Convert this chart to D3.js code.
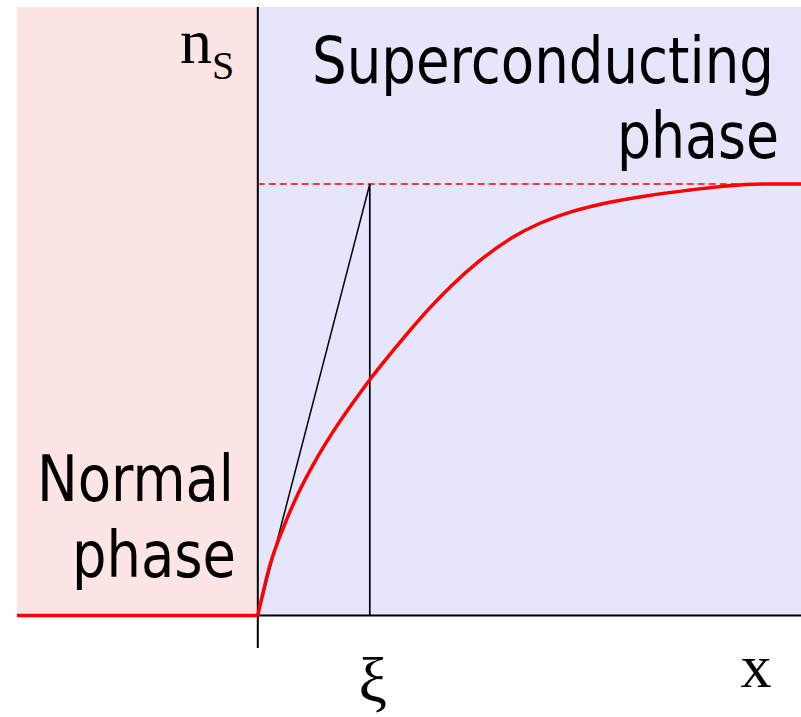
<!DOCTYPE html>
<html><head><meta charset="utf-8">
<script src="https://cdn.jsdelivr.net/npm/d3@7"></script>
<style>html,body{margin:0;padding:0;background:#fff;}svg{display:block;}</style>
</head><body>
<svg id="c" width="801" height="717"></svg>
<script>
// Data (x in units of coherence length ξ, y in units of bulk n_s)
const normalX = [-2.15, 0];
const normalY = [0, 0];
const curveX = [0, 0.11, 0.23, 0.38, 0.53, 0.67, 0.83, 0.99, 1.12, 1.34, 1.54, 1.72, 1.99, 2.28, 2.52, 2.79, 3.09, 3.48, 3.86, 4.16, 4.51, 4.85];
const curveY = [0, 0.118, 0.205, 0.293, 0.366, 0.425, 0.486, 0.543, 0.586, 0.655, 0.714, 0.762, 0.824, 0.877, 0.909, 0.935, 0.955, 0.973, 0.986, 0.995, 1.0, 1.0];
const xi = 1;
const bulk = 1;
const xDomain = [-2.15, 4.85];
const yDomain = [0, 1];

const svg = d3.select("#c");
const x = d3.scaleLinear().domain(xDomain).range([17, 801]);
const y = d3.scaleLinear().domain(yDomain).range([615.5, 184]);
const topEdge = 7;

// regions
svg.append("rect").attr("x", x(xDomain[0])).attr("y", topEdge)
  .attr("width", x(0) - x(xDomain[0])).attr("height", y(0) - topEdge).attr("fill", "#fde5e5");
svg.append("rect").attr("x", x(0)).attr("y", topEdge)
  .attr("width", x(xDomain[1]) - x(0)).attr("height", y(0) - topEdge).attr("fill", "#e5e5fb");

// axes
svg.append("line").attr("x1", x(xDomain[0])).attr("x2", x(xDomain[1]))
  .attr("y1", y(0)).attr("y2", y(0)).attr("stroke", "#000").attr("stroke-width", 2);
svg.append("line").attr("x1", x(0)).attr("x2", x(0))
  .attr("y1", topEdge).attr("y2", 648).attr("stroke", "#000").attr("stroke-width", 2);

// dashed bulk level
svg.append("line").attr("x1", x(0)).attr("x2", x(xDomain[1]))
  .attr("y1", y(bulk)).attr("y2", y(bulk)).attr("stroke", "#ff0000")
  .attr("stroke-width", 1.4).attr("stroke-dasharray", "7,4");

// tangent and xi marker
svg.append("line").attr("x1", x(0)).attr("y1", y(0)).attr("x2", x(xi)).attr("y2", y(bulk))
  .attr("stroke", "#000").attr("stroke-width", 1.5);
svg.append("line").attr("x1", x(xi)).attr("y1", y(bulk)).attr("x2", x(xi)).attr("y2", y(0))
  .attr("stroke", "#000").attr("stroke-width", 1.7);

// curves
const line = d3.line().x(d => x(d[0])).y(d => y(d[1]));
svg.append("path").datum(normalX.map((v, i) => [v, normalY[i]]))
  .attr("d", line).attr("fill", "none").attr("stroke", "#ff0000").attr("stroke-width", 3.5);
svg.append("path").datum(curveX.map((v, i) => [v, curveY[i]]))
  .attr("d", line.curve(d3.curveMonotoneX)).attr("fill", "none")
  .attr("stroke", "#ff0000").attr("stroke-width", 3.5).attr("stroke-linejoin", "round");

// labels
const sans = "'DejaVu Sans Condensed', 'DejaVu Sans', sans-serif";
function lab(t, xr, yb, len) {
  svg.append("text").attr("x", xr).attr("y", yb).attr("text-anchor", "end")
    .attr("font-family", sans).attr("font-stretch", "condensed")
    .attr("font-size", 64).attr("fill", "#000")
    .attr("textLength", len).attr("lengthAdjust", "spacingAndGlyphs").text(t);
}
lab("Superconducting", 774, 83, 462);
lab("phase", 779, 158, 162);
lab("Normal", 234, 501, 197);
lab("phase", 236, 577, 164);

const serif = "'Liberation Serif', 'Times New Roman', serif";
const ns = svg.append("text").attr("x", 180).attr("y", 63)
  .attr("font-family", serif).attr("font-size", 64).attr("fill", "#000");
ns.append("tspan").text("n");
ns.append("tspan").attr("font-size", 40).attr("dy", 16).text("S");

svg.append("text").attr("x", x(xi) + 3).attr("y", 702).attr("text-anchor", "middle")
  .attr("font-family", serif).attr("font-size", 64).text("ξ");
svg.append("text").attr("x", 756).attr("y", 687).attr("text-anchor", "middle")
  .attr("font-family", serif).attr("font-size", 62).text("x");
</script>
</body></html>
